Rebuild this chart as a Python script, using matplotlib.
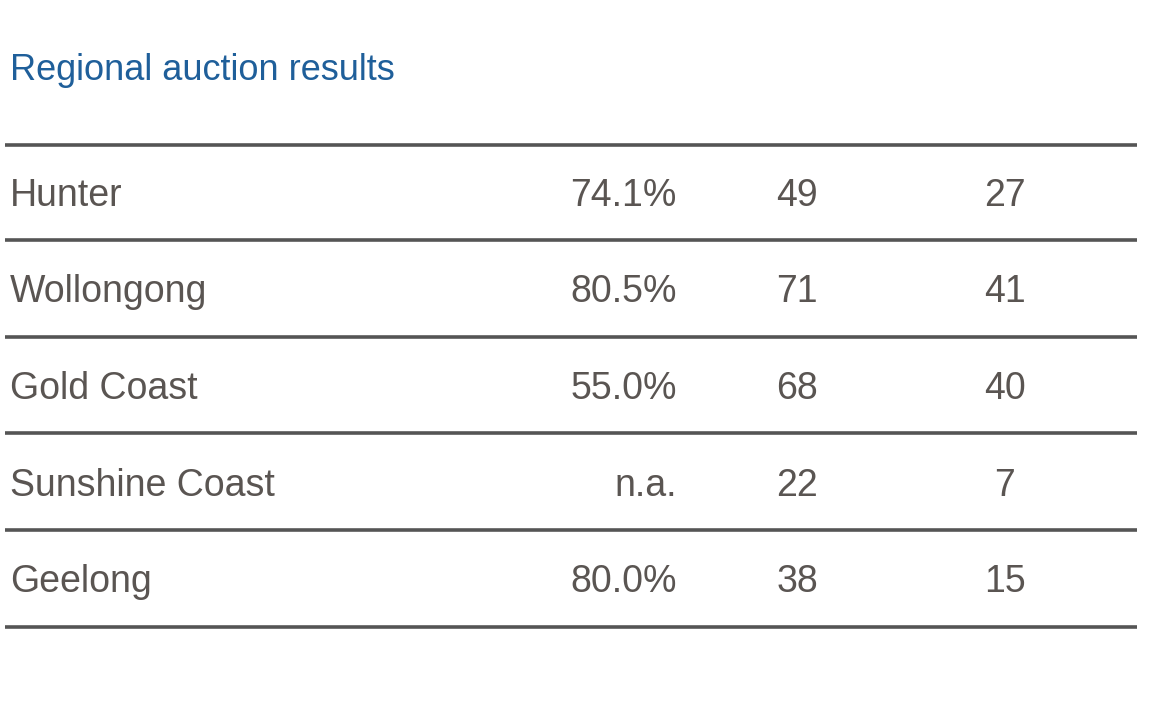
import matplotlib.pyplot as plt
from matplotlib import font_manager

regions = ["Hunter", "Wollongong", "Gold Coast", "Sunshine Coast", "Geelong"]
clearance = ["74.1%", "80.5%", "55.0%", "n.a.", "80.0%"]
auctions = ["49", "71", "68", "22", "38"]
sold = ["27", "41", "40", "7", "15"]

names = {f.name for f in font_manager.fontManager.ttflist}
fam = ["Liberation Sans Narrow"] if "Liberation Sans Narrow" in names else ["Liberation Sans"]
fam = fam + ["DejaVu Sans"]

fig = plt.figure(figsize=(11.6, 7.04), dpi=100)
ax = fig.add_axes([0, 0, 1, 1])
ax.set_xlim(0, 1160)
ax.set_ylim(704, 0)
ax.axis("off")

ax.text(10, 70, "Regional auction results", color="#1f5f9a", fontsize=26,
        family=fam, va="center", ha="left")

line_y = [145, 240, 337, 433, 530, 627]
for y in line_y:
    ax.plot([5, 1137], [y, y], color="#555555", lw=2.6, solid_capstyle="butt")

col = "#5a5552"
fs = 27
for i, name in enumerate(regions):
    y = (line_y[i] + line_y[i + 1]) / 2 + 4
    ax.text(10, y, name, color=col, fontsize=fs, family=fam, va="center", ha="left")
    ax.text(677, y, clearance[i], color=col, fontsize=fs, family=fam, va="center", ha="right")
    ax.text(797, y, auctions[i], color=col, fontsize=fs, family=fam, va="center", ha="center")
    ax.text(1005, y, sold[i], color=col, fontsize=fs, family=fam, va="center", ha="center")

fig.savefig("out.png", dpi=100, facecolor="white")
